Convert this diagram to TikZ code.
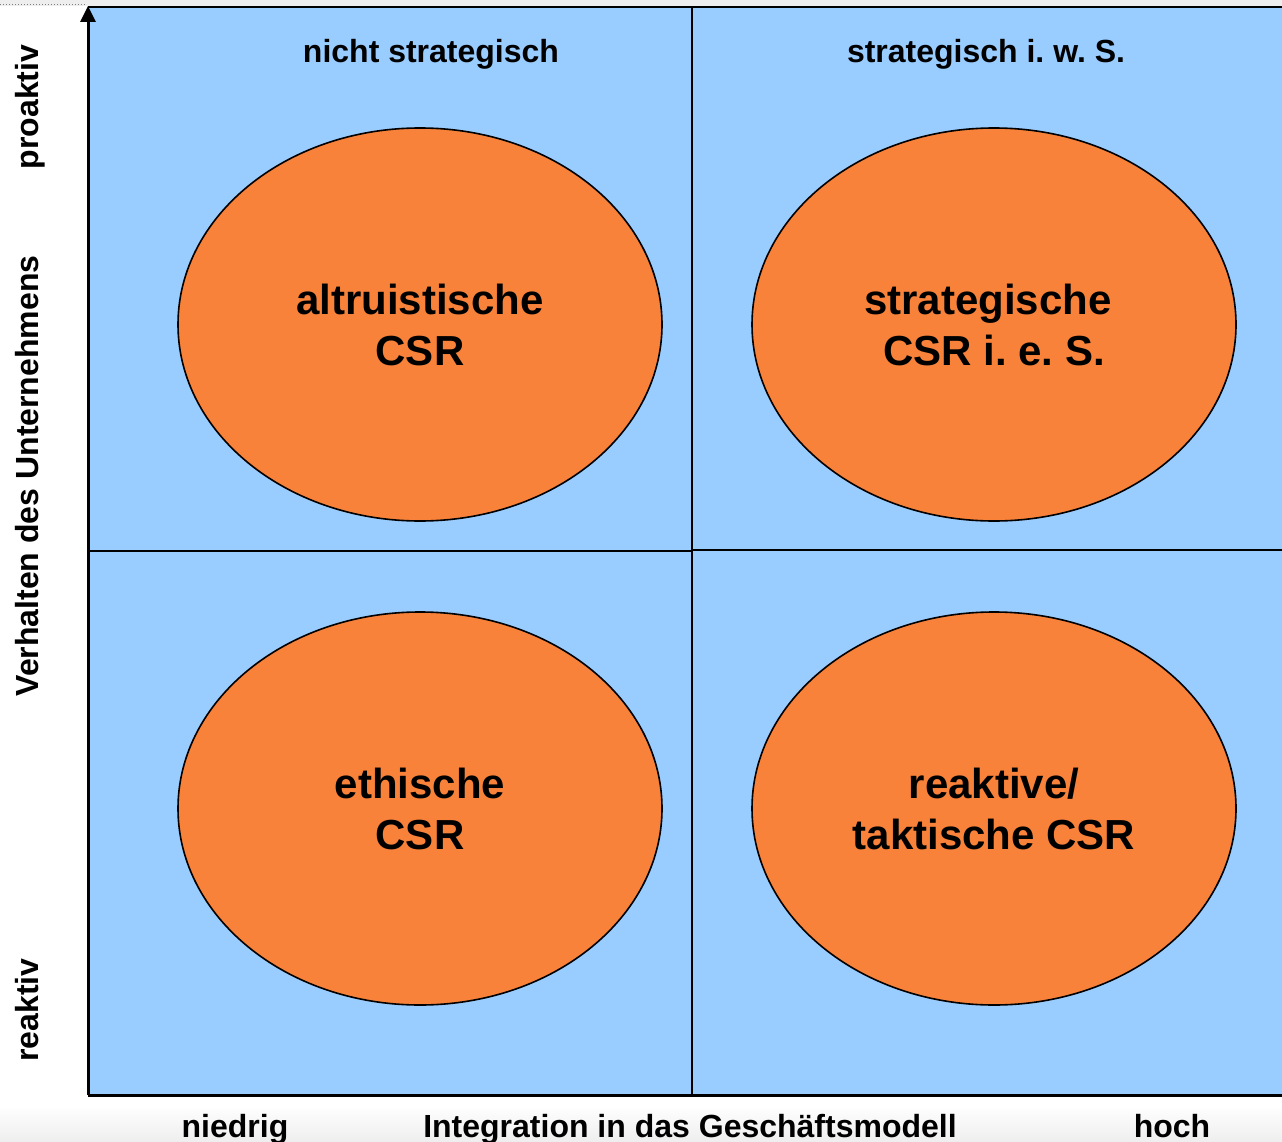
\documentclass[tikz,border=0pt]{standalone}
\usepackage{fontspec}
\setmainfont{Liberation Sans}
\usetikzlibrary{arrows.meta,shapes.geometric}
\definecolor{quadblue}{HTML}{99CCFF}
\definecolor{csrorange}{HTML}{F8823A}
\definecolor{shotgray}{HTML}{EEEEEE}
\begin{document}
\begin{tikzpicture}[x=1pt,y=-1pt,
  axis/.style={line width=3pt,-{Triangle[length=16pt,width=15pt]}},
  divider/.style={line width=2pt},
  csr/.style={ellipse,draw=black,line width=1.6pt,fill=csrorange,
    minimum width=484pt,minimum height=393pt,inner sep=0pt,align=center,
    font=\fontsize{42}{51}\selectfont\bfseries},
  title/.style={font=\fontsize{32}{38}\selectfont\bfseries,anchor=base},
  ylabel/.style={font=\fontsize{32}{38}\selectfont\bfseries,rotate=90,anchor=base}]
\useasboundingbox (0,0) rectangle (1282,1142);
\clip (0,0) rectangle (1282,1142);
% screenshot frame
\fill[white] (0,0) rectangle (1282,1142);
\fill[shotgray] (0,0) rectangle (1282,6);
\draw[gray,dotted,line width=1pt] (0,5) -- (86,5);
\shade[top color=white,bottom color=shotgray] (0,1105) rectangle (1282,1142);
% quadrants
\fill[quadblue] (88,7) rectangle (1282,1095);
\draw[line width=2.5pt] (88,7) -- (1282,7);
\coordinate (midtop) at (692,7);
\coordinate (midbot) at (692,1095);
\coordinate (leftmid) at (88,551);
\coordinate (rightmid) at (1282,550);
\draw[divider] (midtop) -- (midbot);
\draw[divider] (leftmid) -- (692,551) -- (692,550) -- (rightmid);
% axes
\coordinate (origin) at (88,1095);
\coordinate (ytip) at (88,6);
\coordinate (xtip) at (1298,1095);
\draw[axis] (origin) -- (ytip);
\draw[axis] (origin) -- (xtip);
% ellipses
\node[csr] (alt) at (420,324.5) {altruistische\\CSR};
\node[csr] (str) at (994,324.5) {strategische\hspace*{12pt}\\CSR i.\ e.\ S.};
\node[csr] (eth) at (420,808.5) {ethische\\CSR};
\node[csr] (rea) at (994,808.5) {reaktive/\\taktische CSR};
% titles
\node[title] (t1) at (431,63) {nicht strategisch};
\node[title] (t2) at (986,63) {strategisch i.\ w.\ S.};
% y labels
\node[ylabel] (proaktiv) at (38,107) {proaktiv};
\node[ylabel] (verhalten) at (38,476) {Verhalten des Unternehmens};
\node[ylabel] (reaktiv) at (38,1010) {reaktiv};
% x labels
\node[title] (niedrig) at (235,1137) {niedrig};
\node[title] (integ) at (690,1137) {Integration in das Geschäftsmodell};
\node[title] (hoch) at (1172,1137) {hoch};
\end{tikzpicture}
\end{document}
